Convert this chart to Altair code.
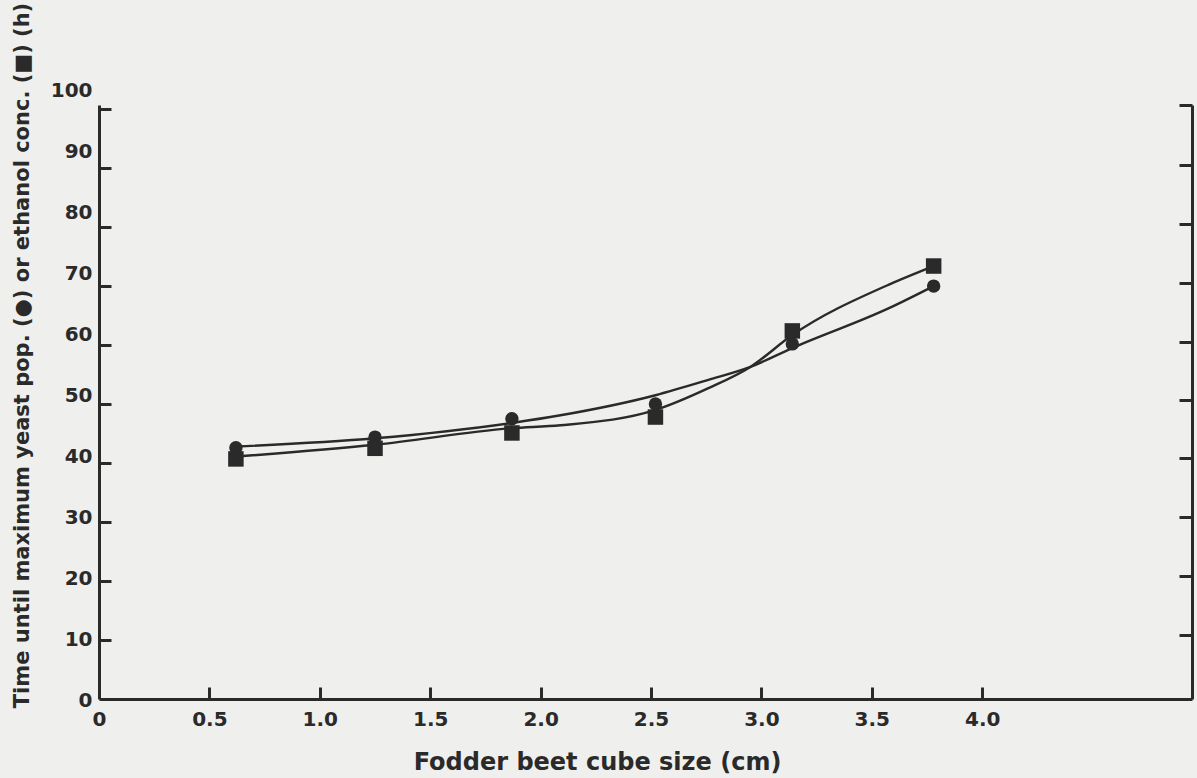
import altair as alt
import pandas as pd

# Cube sizes (cm) of the measured points
cube_size = [0.62, 1.25, 1.87, 2.52, 3.14, 3.78]
# Time until maximum yeast population (h) - circles
yeast_pts = [42.6, 44.4, 47.5, 50.0, 60.2, 70.0]
# Time until maximum ethanol concentration (h) - squares
ethanol_pts = [40.7, 42.5, 45.1, 47.8, 62.4, 73.4]

# Smoothed curves
curve_size = [0.62, 1.25, 1.87, 2.09, 2.52, 2.76, 2.95, 3.14, 3.58, 3.78]
yeast_curve = [42.8, 44.2, 46.8, 48.1, 51.5, 54.1, 56.3, 59.5, 66.3, 70.0]
ethanol_curve = [41.1, 43.1, 45.9, 46.4, 49.0, 52.7, 56.3, 61.7, 70.3, 73.4]

x_ticks = [0, 0.5, 1.0, 1.5, 2.0, 2.5, 3.0, 3.5, 4.0]
y_ticks = [0, 10, 20, 30, 40, 50, 60, 70, 80, 90, 100]
# unlabelled right-hand axis: its ticks sit slightly off the left-hand ones
right_ticks = [10.9, 20.9, 30.9, 40.8, 50.7, 60.6, 70.6, 80.6, 90.6, 100.7]

pts = pd.DataFrame({"size": cube_size, "yeast": yeast_pts, "ethanol": ethanol_pts})
crv = pd.DataFrame({"size": curve_size, "yeast_c": yeast_curve, "ethanol_c": ethanol_curve})

W, H = 1093, 594
INK = "#2a2a2a"
FONT = "DejaVu Sans"

xs = alt.Scale(domain=[0, 4.95], nice=False, zero=False)
ys = alt.Scale(domain=[0, 100.7], nice=False)

# Layer 1: yeast curve + main labelled axes (left & bottom)
l1 = alt.Chart(crv).mark_line(interpolate="monotone", color=INK, strokeWidth=2.4).encode(
    x=alt.X("size:Q", scale=xs, axis=alt.Axis(
        orient="bottom", values=x_ticks, ticks=False, tickSize=0,
        labelExpr="datum.value == 0 ? '0' : format(datum.value, '.1f')",
        labelFont=FONT, labelFontWeight="bold", labelFontSize=20, labelColor=INK,
        labelPadding=10, labelFlush=False,
        domainColor=INK, domainWidth=3,
        title="Fodder beet cube size (cm)", titleFont=FONT, titleFontWeight="bold",
        titleFontSize=24, titleColor=INK, titleX=498, titleY=70,
        titleBaseline="alphabetic", titleAlign="center",
        grid=False)),
    y=alt.Y("yeast_c:Q", scale=ys, axis=alt.Axis(
        orient="left", values=y_ticks, ticks=False, tickSize=0,
        labelFont=FONT, labelFontWeight="bold", labelFontSize=20, labelColor=INK,
        labelPadding=7, labelFlush=False,
        labelOffset=alt.ExprRef(expr="1 - 0.2 * datum.value"),
        domainColor=INK, domainWidth=3,
        title="Time until maximum yeast pop. (\u25cf) or ethanol conc. (\u25a0) (h)",
        titleFont=FONT, titleFontWeight="bold", titleFontSize=21, titleColor=INK,
        titleX=-71, titleY=250, titleBaseline="alphabetic", titleAlign="center",
        titleAngle=-90, grid=False)),
)

# Layer 2: ethanol curve + inward ticks on left and bottom
l2 = alt.Chart(crv).mark_line(interpolate="monotone", color=INK, strokeWidth=2.4).encode(
    x=alt.X("size:Q", scale=xs, axis=alt.Axis(
        orient="top", offset=-H, values=x_ticks[1:], labels=False, domain=False,
        ticks=True, tickSize=12, tickWidth=3, tickColor=INK, title=None, grid=False)),
    y=alt.Y("ethanol_c:Q", scale=ys, axis=alt.Axis(
        orient="right", offset=-W, values=y_ticks[1:], labels=False, domain=False,
        ticks=True, tickSize=12, tickWidth=3, tickColor=INK, title=None, grid=False)),
)

# Layer 3: circles + right-hand axis (ticks pointing inward)
l3 = alt.Chart(pts).mark_circle(size=180, color=INK, opacity=1).encode(
    x=alt.X("size:Q", scale=xs, axis=None),
    y=alt.Y("yeast:Q", scale=ys, axis=alt.Axis(
        orient="left", offset=-W, values=right_ticks, labels=False, domain=True,
        domainColor=INK, domainWidth=3,
        ticks=True, tickSize=13, tickWidth=3, tickColor=INK, title=None, grid=False)),
)

# Layer 4: squares
l4 = alt.Chart(pts).mark_square(size=240, color=INK, opacity=1).encode(
    x=alt.X("size:Q", scale=xs, axis=None),
    y=alt.Y("ethanol:Q", scale=ys, axis=None),
)

chart = alt.layer(l1, l2, l3, l4).resolve_axis(
    x="independent", y="independent"
).properties(
    width=W, height=H,
    background="#efefed",
    padding={"left": 99, "top": 105, "right": 5, "bottom": 79},
    autosize=alt.AutoSizeParams(type="none"),
).configure_view(stroke=None)

chart.save("out.html", embed_options={"renderer": "svg", "actions": False})
